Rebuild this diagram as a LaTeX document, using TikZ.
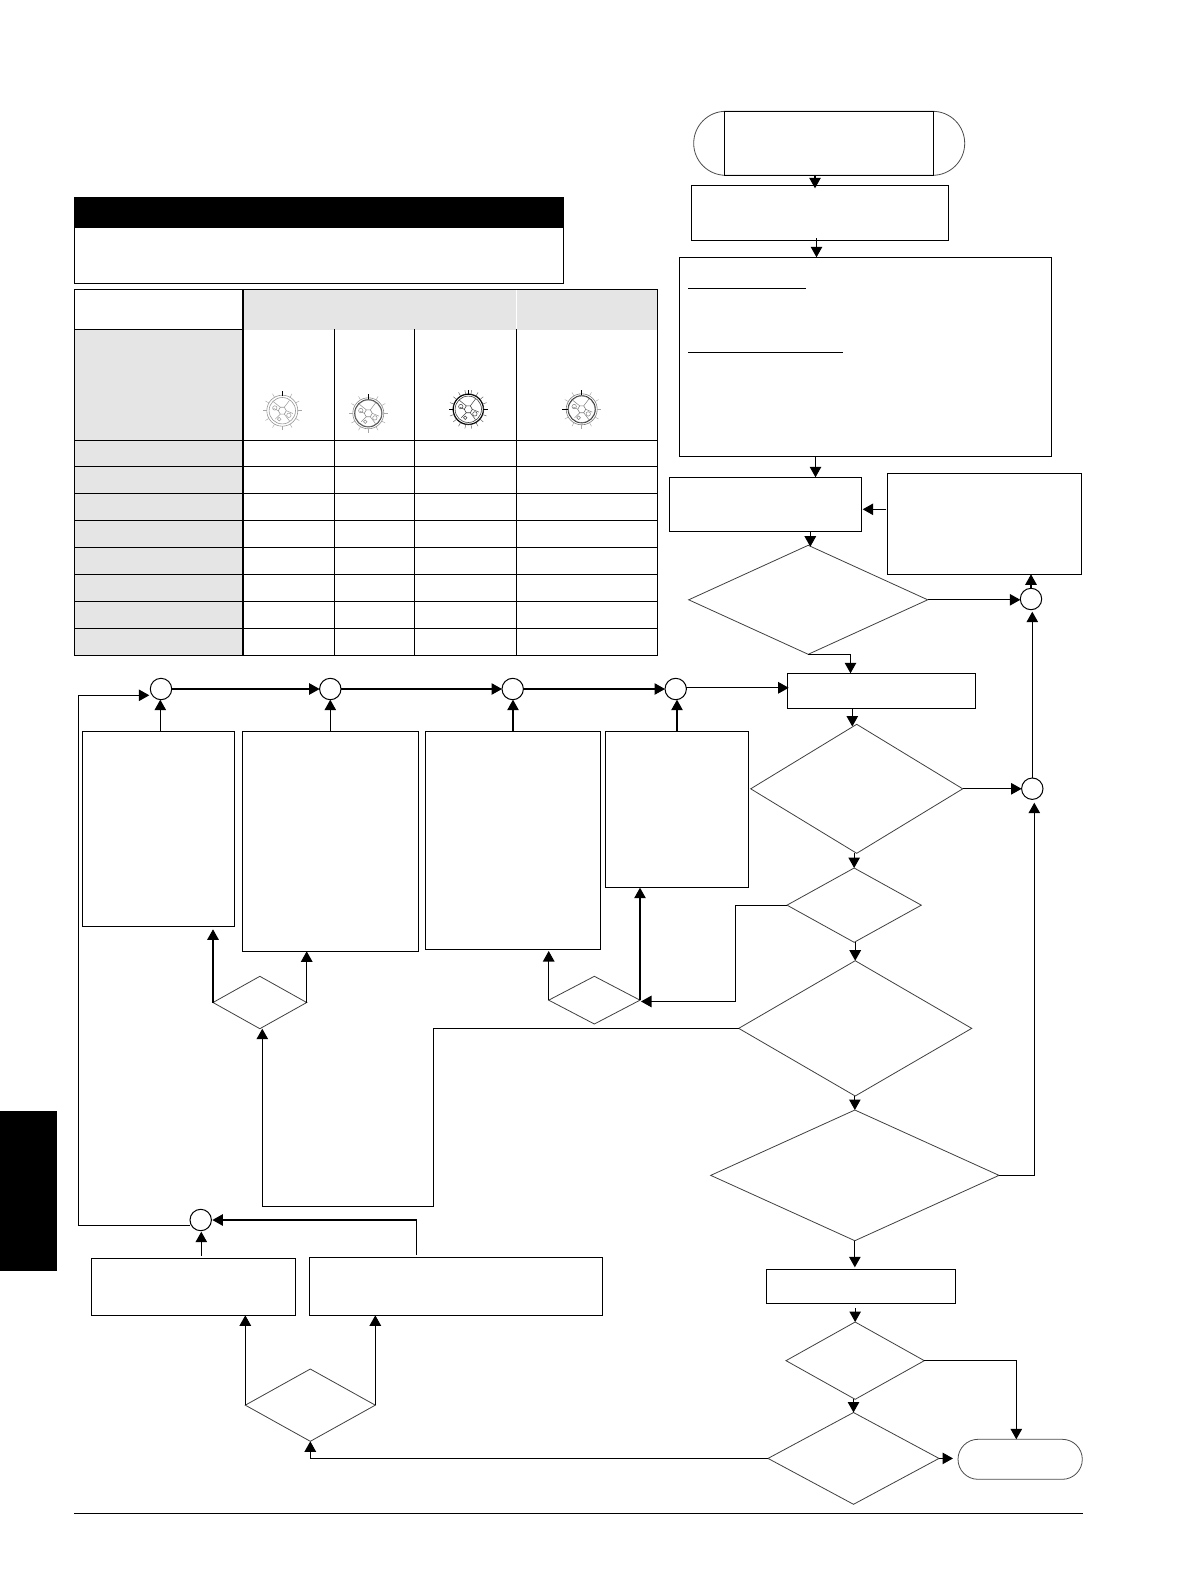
\documentclass[tikz,border=0pt]{standalone}
\usetikzlibrary{arrows.meta,shapes.geometric,shapes.misc}
\tikzset{
  boxs/.style={draw=black,line width=1.1pt,rectangle,inner sep=0pt,outer sep=0pt},
  decis/.style={draw=black!75,line width=0.8pt,diamond,inner sep=0pt,outer sep=0pt},
  joint/.style={draw=black,line width=1pt,circle,inner sep=0pt,outer sep=0pt,minimum size=21.4pt,fill=white},
  capsule/.style={draw=black!70,line width=0.8pt,rounded rectangle,inner sep=0pt,outer sep=0pt},
  conn/.style={-{Triangle[length=10.5pt,width=11.5pt]},line width=1.05pt,black},
  plainline/.style={line width=1.1pt,black},
  tblline/.style={line width=1.1pt,black},
  dialthin/.style={line width=0.45pt},
}
\newcommand\bx[5]{\node[boxs,minimum width={(#4-#2)*1pt},minimum height={(#5-#3)*1pt}] (#1) at ({(#2+#4)/2},{(#3+#5)/2}) {};}
\newcommand\dm[5]{\node[decis,minimum width={(#3-#2)*1pt},minimum height={(#5-#4)*1pt}] (#1) at ({(#2+#3)/2},{(#4+#5)/2}) {};}
\newcommand\jn[3]{\node[joint] (#1) at (#2,#3) {};}
% dial: x, y, ring colour, tick colour, tick step
\newcommand\dial[5]{%
  \begin{scope}[shift={(#1,#2)}]
    \draw[#3,line width=0.6pt] (0,0) circle (15.5);
    \draw[#3,line width=0.6pt] (0,0) circle (13.2);
    \foreach \a in {0,#5,...,359} {\draw[#4,dialthin] (\a:15.5) -- (\a:19.5);}
    \draw[#3,line width=0.6pt] (0:4) -- (60:4) -- (120:4) -- (180:4) -- (240:4) -- (300:4) -- cycle;
    \draw[#3,line width=0.5pt] (60:4) -- (55:12.5) (240:4) -- (225:13) (300:4) -- (305:12.5) (0:4) -- (15:11) (120:4) -- (130:11) (180:4) -- (195:9);
    \draw[#3,line width=0.5pt] (35:8) circle (2.2) (200:8) circle (2.2) (110:9) circle (1.8);
    \draw[black,line width=0.9pt] (270:14.5) -- (270:19.5);
  \end{scope}}
\begin{document}
\begin{tikzpicture}[x=1pt,y=-1pt]
\useasboundingbox (0,0) rectangle (1190,1584);
\fill[white] (0,0) rectangle (1190,1584);

% side tab, bottom rule
\fill[black] (0,1111) rectangle (57,1271);
\draw[plainline] (74,1513.3) -- (1082.7,1513.3);

% black title box
\fill[black] (74.2,197) rectangle (564.2,228);
\draw[tblline] (74.8,227.7) rectangle (563.7,283.3);

% table
\fill[black!10] (243,289.3) rectangle (657.7,329.8);
\fill[black!10] (74.8,329.3) rectangle (243,655.3);
\draw[white,line width=0.4pt] (516.6,290) -- (516.6,329);
\draw[tblline] (74.8,289.3) -- (657.7,289.3);
\draw[tblline] (74.8,329.3) -- (243,329.3);
\draw[tblline] (74.8,289.3) -- (74.8,655.3) -- (657.7,655.3) -- (657.7,289.3);
\draw[tblline] (243,289.3) -- (243,655.3);
\foreach \xx in {334.4,414.4,516.6} {\draw[tblline] (\xx,329.3) -- (\xx,655.3);}
\foreach \yy in {440.3,466.3,493.3,520.3,547.3,574.3,601.3,628.3} {\draw[tblline] (74.8,\yy) -- (657.7,\yy);}

% dials
\dial{282.3}{410.7}{black!40}{black!35}{30}
\dial{368.3}{413.3}{black!45}{black!35}{30}
\draw[black!70,line width=0.8pt] (368.3,413.3) circle (13.7);
\dial{468.3}{409.3}{black!75}{black!65}{20}
\draw[black,line width=0.9pt] (468.3,409.3) circle (15);
\draw[black,line width=0.9pt] (449,409.3) -- (454,409.3) (483,409.3) -- (488,409.3);
\dial{581.7}{409.3}{black!50}{black!35}{30}
\draw[black!80,line width=0.7pt] (581.7,409.3) circle (13.7);
\draw[black,line width=0.9pt] (562,409.3) -- (568,409.3);

% nodes: top column
\node[capsule,minimum width=271pt,minimum height=64pt] (startcap) at (829.2,143.3) {};
\bx{startrect}{724.3}{111.3}{933.3}{175.3}
\bx{initbox}{691.3}{185.3}{948.7}{240.3}
\bx{bigbox}{679.3}{257.3}{1051.7}{456.3}
\draw[line width=1pt] (688,288.3) -- (806,288.3) (688,352.3) -- (843,352.3);
\bx{abox}{669.3}{477.3}{861.7}{531.3}
\bx{bbox}{887.3}{473.3}{1081.7}{574.3}
\dm{dOne}{688.7}{927.7}{545.3}{654.3}
\bx{cbox}{787.3}{673.3}{975.7}{708.3}
\dm{dTwo}{750.7}{962.7}{724.3}{853.3}
\dm{dThree}{787}{921.3}{868}{942.3}
\dm{dFour}{738.7}{971.7}{960.7}{1096}
\dm{dFive}{710.7}{999}{1110}{1240.7}
\bx{rbox}{766.3}{1269.3}{955.7}{1303.3}
\dm{dNine}{786}{924.3}{1322}{1399.3}
\dm{dTen}{768}{939}{1412.5}{1504.3}
\node[capsule,minimum width=124.3pt,minimum height=40pt] (endcap) at (1020.15,1459.3) {};
\jn{jOne}{1031}{599}
\jn{jTwo}{1032.3}{788.7}

% nodes: middle row
\jn{jFive}{161}{689}
\jn{jSix}{330.3}{689}
\jn{jThree}{512.7}{689}
\jn{jFour}{675.7}{689}
\bx{colA}{82.3}{731.3}{234.3}{926.3}
\bx{colB}{242.3}{731.3}{418.3}{951.3}
\bx{colC}{425.3}{731.3}{600.7}{949.3}
\bx{colD}{605.3}{731.3}{748.7}{887.7}
\dm{dSeven}{213}{306.7}{976.3}{1028.7}
\dm{dSix}{548.7}{640}{976.3}{1024}

% nodes: bottom left
\jn{jSeven}{200.7}{1220}
\bx{boxL}{91.3}{1258.3}{295.3}{1315.3}
\bx{boxR}{309.3}{1257.3}{602.3}{1315.3}
\dm{dEight}{245.3}{375.3}{1369}{1441.3}

% connectors
\draw[conn] ([xshift=-13.8pt]startrect.south) -- ([xshift=-13.8pt,yshift=-3pt]startrect.south |- initbox.north);
\draw[conn] ([xshift=-3.5pt,yshift=2pt]initbox.south) -- ([xshift=-3.5pt]initbox.south |- bigbox.north);
\draw[conn] ([xshift=-50pt]bigbox.south) -- ([xshift=-50pt]bigbox.south |- abox.north);
\draw[conn] ([yshift=14.5pt,xshift=-1pt]bbox.west) -- ([yshift=14.5pt,xshift=1pt]bbox.west -| abox.east);
\draw[conn] ([xshift=44.8pt]abox.south) -- ([xshift=44.8pt,yshift=-1.4pt]abox.south |- dOne.north);
\draw[conn] (dOne.east) -- (dOne.east -| jOne.west);
\draw[conn] (jOne.north) -- (jOne.north |- bbox.south);
\draw[conn] (jTwo.north) -- ([yshift=-2pt]jTwo.north |- jOne.south);
\draw[conn] (dOne.south) -| ([xshift=-31pt]cbox.north);
\draw[conn] ([yshift=3pt]cbox.west -| jFour.east) -- ([yshift=3pt,xshift=1.4pt]cbox.west);
\draw[conn] ([xshift=-29.2pt]cbox.south) -- ([xshift=-29.2pt,yshift=-2.2pt]cbox.south |- dTwo.north);
\draw[conn] (dTwo.east) -- (dTwo.east -| jTwo.west);
\draw[conn] (dThree.north |- dTwo.south) -- (dThree.north);
\draw[conn] (dFour.north |- dThree.south) -- (dFour.north);
\draw[conn] (dFive.north |- dFour.south) -- (dFive.north);
\draw[conn] (dFive.south) -- ([yshift=2pt]dFive.south |- rbox.north);
\draw[conn] ([yshift=-5pt]dNine.north |- rbox.south) -- (dNine.north);
\draw[conn] (dTen.north |- dNine.south) -- (dTen.north);
\draw[conn] (dNine.east) -| ([xshift=-3.85pt]endcap.north);
\draw[conn] (dTen.east) -- ([xshift=-5pt]dTen.east -| endcap.west);
\draw[conn] (dFive.east) -| ([xshift=2pt,yshift=-3.3pt]jTwo.south);
\draw[conn] (dThree.west) -- ++(-51.7,0) |- ([xshift=1pt,yshift=-1.3pt]dSix.east);
\draw[conn] (dSix.west) -- ([yshift=-1.7pt]dSix.west |- colC.south);
\draw[conn] (dSix.east) -- (dSix.east |- colD.south);
\draw[conn] (colD.north) -- (colD.north |- jFour.south);
\draw[conn] (colC.north) -- (colC.north |- jThree.south);
\draw[conn] (colB.north) -- (colB.north |- jSix.south);
\draw[conn] ([xshift=2pt]colA.north) -- ([xshift=2pt]colA.north |- jFive.south);
\draw[conn] (jFive.east) -- (jSix.west);
\draw[conn] (jSix.east) -- (jThree.west);
\draw[conn] (jThree.east) -- (jFour.west);
\draw[conn] ([yshift=-5.3pt]jSeven.west) -- ++(-111.7,0) |- ([xshift=-1pt,yshift=-6.3pt]jFive.west);
\draw[conn] (dSeven.west) -- ([yshift=-3pt]dSeven.west |- colA.south);
\draw[conn] (dSeven.east) -- (dSeven.east |- colB.south);
\draw[conn] (dFour.west) -- ++(-305.4,0) -- ++(0,178) -| ([xshift=2.45pt]dSeven.south);
\draw[conn] ([xshift=-39.5pt,yshift=2.6pt]boxR.north) |- ([xshift=1pt]jSeven.east);
\draw[conn] ([xshift=8pt,yshift=2.6pt]boxL.north) -- ([xshift=8pt,yshift=-1pt]boxL.north |- jSeven.south);
\draw[conn] (dEight.west) -- (dEight.west |- boxL.south);
\draw[conn] (dEight.east) -- (dEight.east |- boxR.south);
\draw[conn] (dTen.west) -| (dEight.south);
\end{tikzpicture}
\end{document}
